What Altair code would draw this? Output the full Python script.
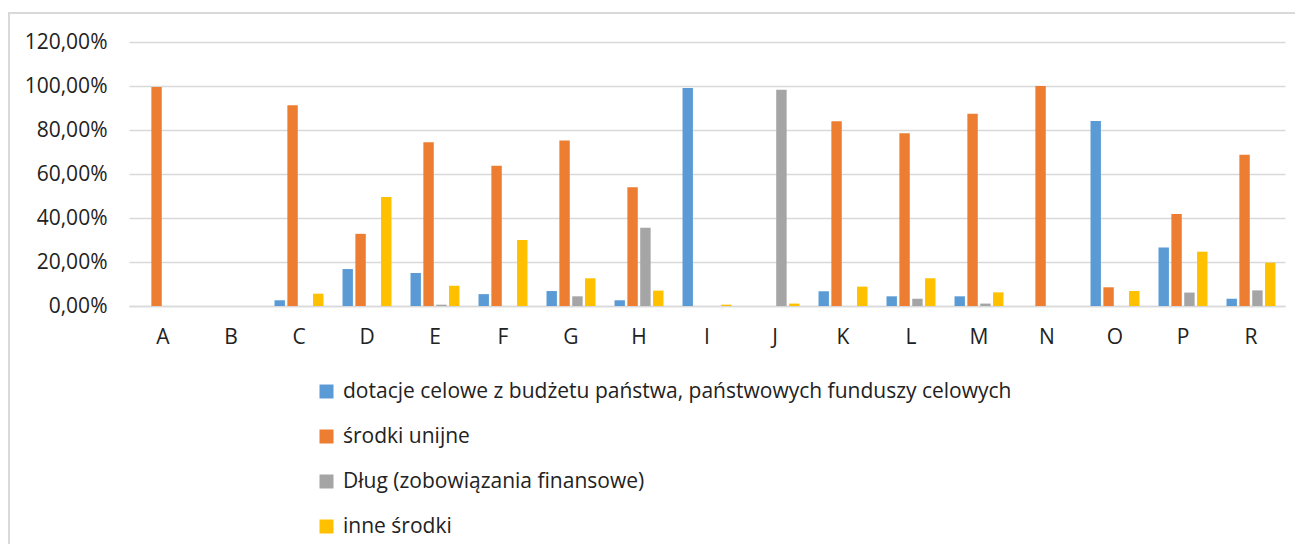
import altair as alt
import pandas as pd

categories = ["A", "B", "C", "D", "E", "F", "G", "H", "I", "J", "K", "L", "M", "N", "O", "P", "R"]
series_names = [
    "dotacje celowe z budżetu państwa, państwowych funduszy celowych",
    "środki unijne",
    "Dług (zobowiązania finansowe)",
    "inne środki",
]
dotacje = [0, 0, 2.6, 16.8, 15.0, 5.4, 6.8, 2.6, 99.1, 0, 6.7, 4.4, 4.4, 0, 84.1, 26.6, 3.3]
unijne = [99.6, 0, 91.2, 32.8, 74.4, 63.8, 75.2, 54.0, 0, 0, 84.0, 78.5, 87.4, 100.0, 8.5, 41.8, 68.8]
dlug = [0, 0, 0, 0, 0.6, 0, 4.4, 35.6, 0, 98.3, 0, 3.3, 1.1, 0, 0, 6.1, 7.1]
inne = [0, 0, 5.6, 49.6, 9.2, 30.0, 12.6, 7.0, 0.6, 1.1, 8.8, 12.6, 6.2, 0, 6.8, 24.7, 19.7]
colors = ["#5B9BD5", "#ED7D31", "#A5A5A5", "#FFC000"]
y_ticks = [0, 20, 40, 60, 80, 100, 120]

rows = []
for si, (name, vals) in enumerate(zip(series_names, [dotacje, unijne, dlug, inne])):
    for c, v in zip(categories, vals):
        rows.append({"kategoria": c, "seria": name, "order": si, "wartosc": v})
df = pd.DataFrame(rows)

FONT = "Open Sans"
FS = 21

bars = alt.Chart(df).mark_bar().encode(
    x=alt.X("kategoria:N", sort=categories,
            scale=alt.Scale(paddingInner=0.28, paddingOuter=0.14),
            axis=alt.Axis(title=None, labelAngle=0, ticks=False, domain=True,
                          domainColor="#d9d9d9", domainWidth=1.5,
                          labelPadding=20, labelFontSize=FS, labelFont=FONT,
                          labelColor="#222222", grid=False)),
    xOffset=alt.XOffset("seria:N", sort=series_names,
                        scale=alt.Scale(paddingInner=0.19)),
    y=alt.Y("wartosc:Q",
            scale=alt.Scale(domain=[0, 120], nice=False),
            axis=alt.Axis(title=None, values=y_ticks, ticks=False, domain=False,
                          gridColor="#d9d9d9", gridWidth=1.5,
                          labelPadding=22, labelFontSize=FS, labelFont=FONT,
                          labelColor="#222222",
                          labelExpr="replace(format(datum.value, '.2f'), '.', ',') + '%'")),
    color=alt.Color("seria:N", sort=series_names,
                    scale=alt.Scale(domain=series_names, range=colors),
                    legend=alt.Legend(title=None, orient="none", legendX=187, legendY=339,
                                      direction="vertical", symbolType="square",
                                      symbolSize=196, symbolStrokeWidth=0,
                                      labelFontSize=FS, labelFont=FONT,
                                      labelColor="#222222", labelLimit=0,
                                      rowPadding=23, labelOffset=6, padding=0)),
)

frame = alt.Chart(alt.Data(values=[{}])).mark_rect(
    fill=None, stroke="#d9d9d9", strokeWidth=2, clip=False
).encode(
    x=alt.value(-120), x2=alt.value(1400),
    y=alt.value(-29), y2=alt.value(700),
)

chart = alt.layer(frame, bars).properties(
    width=1156, height=264,
    autosize=alt.AutoSizeParams(type="none"),
    padding={"left": 121, "top": 34, "right": 10, "bottom": 238},
).configure_view(stroke=None)

chart.save("out.html", embed_options={"renderer": "svg", "actions": False})
